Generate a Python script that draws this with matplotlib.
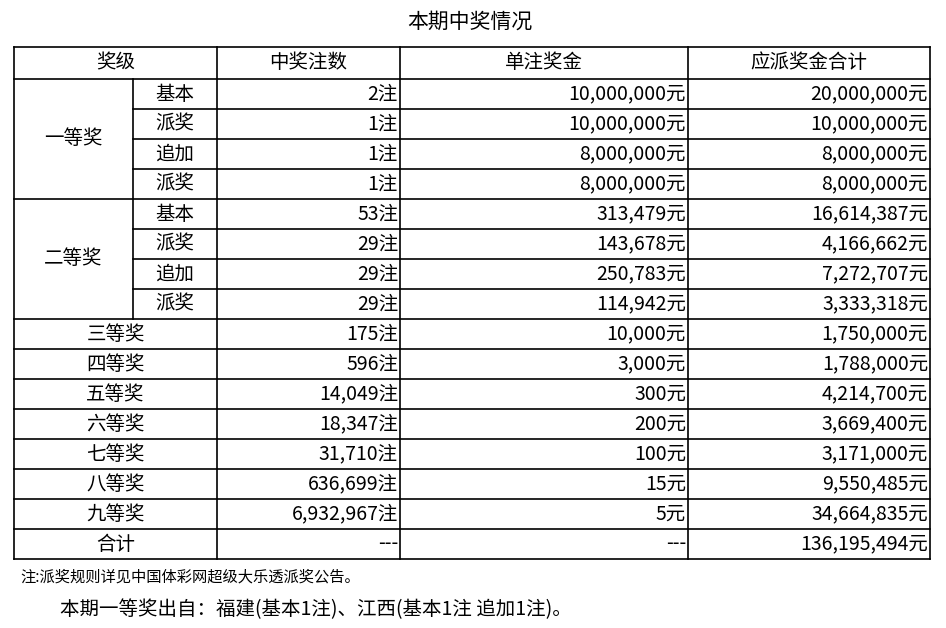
import matplotlib.pyplot as plt

plt.rcParams["font.family"] = "Noto Sans CJK SC"

headers = ["奖级", "中奖注数", "单注奖金", "应派奖金合计"]
groups = ["一等奖", "二等奖"]
sub_labels = ["基本", "派奖", "追加", "派奖"]
levels = ["三等奖", "四等奖", "五等奖", "六等奖", "七等奖", "八等奖", "九等奖", "合计"]
counts = ["2注", "1注", "1注", "1注", "53注", "29注", "29注", "29注",
          "175注", "596注", "14,049注", "18,347注", "31,710注", "636,699注",
          "6,932,967注", "---"]
per_bet = ["10,000,000元", "10,000,000元", "8,000,000元", "8,000,000元",
           "313,479元", "143,678元", "250,783元", "114,942元",
           "10,000元", "3,000元", "300元", "200元", "100元", "15元", "5元", "---"]
totals = ["20,000,000元", "10,000,000元", "8,000,000元", "8,000,000元",
          "16,614,387元", "4,166,662元", "7,272,707元", "3,333,318元",
          "1,750,000元", "1,788,000元", "4,214,700元", "3,669,400元",
          "3,171,000元", "9,550,485元", "34,664,835元", "136,195,494元"]
title = "本期中奖情况"
note = "注:派奖规则详见中国体彩网超级大乐透派奖公告。"
footer = "本期一等奖出自：福建(基本1注)、江西(基本1注 追加1注)。"

fig = plt.figure(figsize=(9.46, 6.28), dpi=100)
ax = fig.add_axes([0, 0, 1, 1])
ax.set_xlim(0, 946)
ax.set_ylim(628, 0)
ax.axis("off")

xs = [14, 133, 217, 400, 688, 930]
top, hb, rh = 47, 79, 30
n = len(counts)
bottom = hb + rh * n
lk = dict(color="black", lw=1.2)

ax.plot([xs[0], xs[-1]], [top, top], **lk)
ax.plot([xs[0], xs[-1]], [bottom, bottom], **lk)
ax.plot([xs[0], xs[-1]], [hb, hb], **lk)
for i in range(1, n):
    y = hb + rh * i
    x0 = xs[0] if i % 4 == 0 or i > 8 else xs[1]
    ax.plot([x0, xs[-1]], [y, y], **lk)
for x in [xs[0], xs[2], xs[3], xs[4], xs[5]]:
    ax.plot([x, x], [top, bottom], **lk)
ax.plot([xs[1], xs[1]], [hb, hb + rh * 8], **lk)

fs = 14
ax.text(470, 22, title, ha="center", va="center", fontsize=15)
ax.text((xs[0] + xs[2]) / 2, (top + hb) / 2, headers[0], ha="center", va="center", fontsize=fs)
for j in range(1, 4):
    ax.text((xs[j + 1] + xs[j + 2]) / 2, (top + hb) / 2, headers[j], ha="center", va="center", fontsize=fs)

for g, name in enumerate(groups):
    ax.text((xs[0] + xs[1]) / 2, hb + rh * (4 * g + 2), name, ha="center", va="center", fontsize=fs)
    for k, s in enumerate(sub_labels):
        ax.text((xs[1] + xs[2]) / 2, hb + rh * (4 * g + k + 0.5), s, ha="center", va="center", fontsize=fs)
for k, name in enumerate(levels):
    ax.text((xs[0] + xs[2]) / 2, hb + rh * (8 + k + 0.5), name, ha="center", va="center", fontsize=fs)

for i in range(n):
    yc = hb + rh * (i + 0.5)
    ax.text(xs[3] - 2, yc, counts[i], ha="right", va="center", fontsize=fs)
    ax.text(xs[4] - 2, yc, per_bet[i], ha="right", va="center", fontsize=fs)
    ax.text(xs[5] - 2, yc, totals[i], ha="right", va="center", fontsize=fs)

ax.text(20, 577, note, ha="left", va="center", fontsize=11)
ax.text(60, 610, footer, ha="left", va="center", fontsize=14)

fig.savefig("out.png", dpi=100)
